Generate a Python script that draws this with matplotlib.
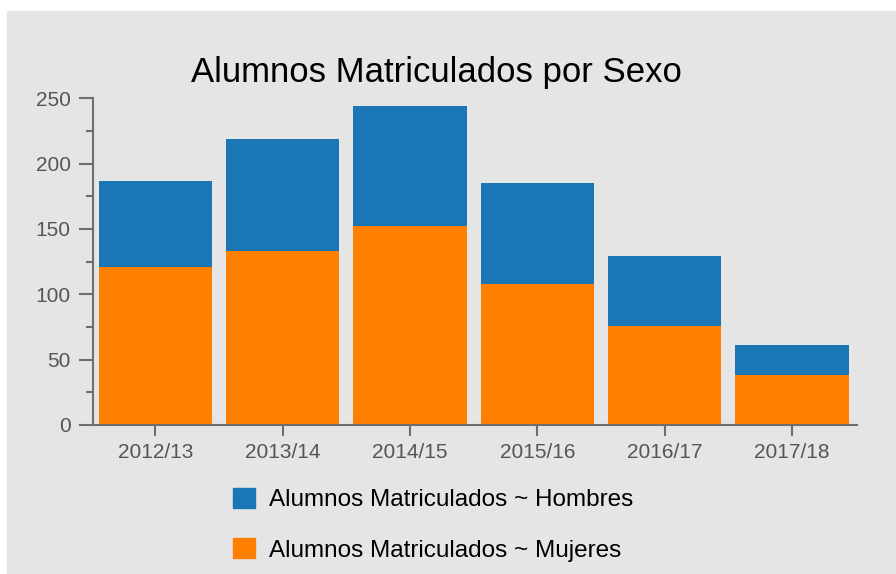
import matplotlib.pyplot as plt
from matplotlib.patches import Rectangle, Patch
from matplotlib.ticker import MultipleLocator

cursos = ['2012/13', '2013/14', '2014/15', '2015/16', '2016/17', '2017/18']
mujeres = [121, 133, 152, 108, 76, 38]
hombres = [66, 86, 92, 77, 53, 23]

blue = '#1a76b5'
orange = '#ff8000'
bg = '#e5e5e5'
axis_col = '#6e6e6e'

plt.rcParams['font.family'] = ['Liberation Sans', 'DejaVu Sans']

fig = plt.figure(figsize=(8.96, 5.74), dpi=100)
fig.patches.append(Rectangle((7 / 896, 0), 1, 1 - 11 / 574, transform=fig.transFigure,
                             color=bg, zorder=-10))

ax = fig.add_axes([93 / 896, 1 - 425 / 574, 764 / 896, (425 - 98.3) / 574])
ax.set_facecolor('none')

x = range(len(cursos))
ax.bar(x, mujeres, width=0.89, color=orange, label='Alumnos Matriculados ~ Mujeres')
ax.bar(x, hombres, width=0.89, bottom=mujeres, color=blue,
       label='Alumnos Matriculados ~ Hombres')

ax.set_xlim(-0.49, 5.51)
ax.set_ylim(0, 250)
ax.set_xticks(list(x))
ax.set_xticklabels(cursos)
ax.yaxis.set_major_locator(MultipleLocator(50))
ax.yaxis.set_minor_locator(MultipleLocator(25))

for s in ['top', 'right']:
    ax.spines[s].set_visible(False)
for s in ['left', 'bottom']:
    ax.spines[s].set_color(axis_col)
    ax.spines[s].set_linewidth(1.5)

ax.tick_params(axis='y', which='major', length=10, width=1.5, color=axis_col,
               labelsize=15, labelcolor='#555555', pad=6)
ax.tick_params(axis='y', which='minor', length=5, width=1.5, color=axis_col)
ax.tick_params(axis='x', which='major', length=8, width=1.5, color=axis_col,
               labelsize=15, labelcolor='#555555', pad=5)

fig.text(436.5 / 896, 1 - 82 / 574, 'Alumnos Matriculados por Sexo', ha='center',
         va='baseline', fontsize=25, color='black')

handles = [Patch(color=blue), Patch(color=orange)]
labels = ['Alumnos Matriculados ~ Hombres', 'Alumnos Matriculados ~ Mujeres']
fig.legend(handles, labels, loc='upper left', bbox_to_anchor=(233 / 896, 1 - 488 / 574),
           frameon=False, fontsize=17.5, handlelength=0.9, handleheight=0.9,
           handletextpad=0.6, labelspacing=1.1, borderpad=0, borderaxespad=0)

fig.savefig('out.png', dpi=100)
